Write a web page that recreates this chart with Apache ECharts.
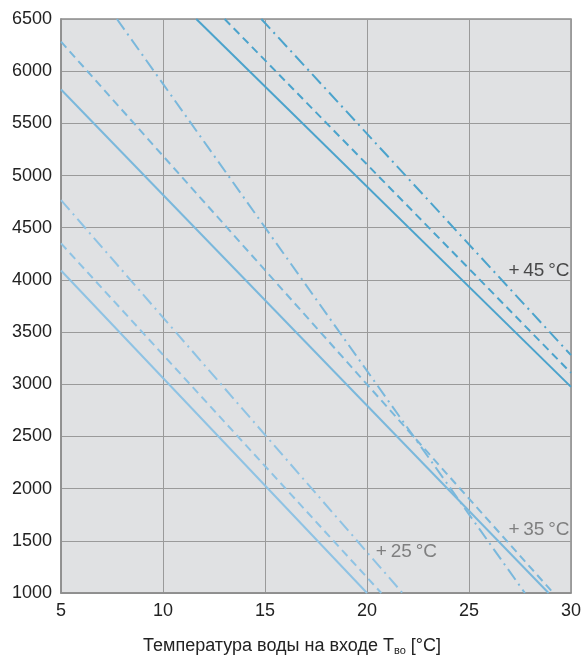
<!DOCTYPE html>
<html>
<head>
<meta charset="utf-8">
<script src="https://cdn.jsdelivr.net/npm/echarts@6/dist/echarts.min.js"></script>
<style>
html,body{margin:0;padding:0;background:#fff;}
#chart{width:584px;height:657px;}
</style>
</head>
<body>
<div id="chart"></div>
<script>
// ---- data ----
const xTicks = [5, 10, 15, 20, 25, 30];
const yTicks = [1000, 1500, 2000, 2500, 3000, 3500, 4000, 4500, 5000, 5500, 6000, 6500];

// +25 °C group
const t25Solid   = [[5, 4090], [20.0, 1000]];
const t25Dashed  = [[5, 4350], [20.7, 1000]];
const t25DashDot = [[5, 4765], [21.74, 1000]];
// +35 °C group
const t35Solid   = [[5, 5825], [28.9, 1000]];
const t35Dashed  = [[5, 6283], [29.13, 1000]];
const t35DashDot = [[7.74, 6500], [27.74, 1000]];
// +45 °C group
const t45Solid   = [[11.63, 6500], [30, 2975]];
const t45Dashed  = [[13.02, 6500], [30, 3109]];
const t45DashDot = [[14.82, 6500], [30, 3279]];

const labelTexts = ['+\u200945\u2009\u00b0C', '+\u200935\u2009\u00b0C', '+\u200925\u2009\u00b0C'];
const labelAnchors = [[28.43, 4084], [28.43, 1610], [21.93, 1393]];

// ---- chart ----
const chart = echarts.init(document.getElementById('chart'), null, {renderer: 'canvas'});
const FONT = '"Liberation Sans", Arial, sans-serif';
const c45 = '#4ba3cc', c35 = '#7ab8dc', c25 = '#8fc3e4';
const DASH = [8, 5];
const DASHDOT = [13, 5, 2, 5];

function mk(data, color, type) {
  return {
    type: 'line', data: data, symbol: 'none', silent: true,
    lineStyle: {color: color, width: 2, type: type},
    animation: false
  };
}

const series = [
  mk(t25Solid, c25, 'solid'), mk(t25Dashed, c25, DASH), mk(t25DashDot, c25, DASHDOT),
  mk(t35Solid, c35, 'solid'), mk(t35Dashed, c35, DASH), mk(t35DashDot, c35, DASHDOT),
  mk(t45Solid, c45, 'solid'), mk(t45Dashed, c45, DASH), mk(t45DashDot, c45, DASHDOT)
];

const labelColors = ['#222222', '#666666', '#666666'];
series.push({
  type: 'scatter', silent: true, animation: false,
  symbolSize: 0,
  data: labelAnchors.map((p, i) => ({
    value: p,
    label: {
      show: true, position: 'inside', formatter: labelTexts[i],
      color: labelColors[i], fontSize: 19, fontFamily: FONT, textBorderWidth: 0
    }
  }))
});

chart.setOption({
  backgroundColor: '#ffffff',
  animation: false,
  grid: {
    left: 61, right: 13, top: 19, bottom: 64,
    outerBoundsMode: 'none', containLabel: false,
    show: true, backgroundColor: '#e0e1e3', borderColor: '#8c8c8c', borderWidth: 1.5
  },
  xAxis: {
    type: 'value', min: 5, max: 30, interval: 5,
    name: 'Температура воды на входе T{sub|во} [°C]',
    nameLocation: 'middle', nameGap: 43,
    nameTextStyle: {
      fontSize: 18, color: '#222', fontFamily: FONT, padding: [0, 48, 0, 0],
      rich: {sub: {fontSize: 11, color: '#222', fontFamily: FONT, verticalAlign: 'bottom', padding: [9, 0, 0, 0]}}
    },
    axisLine: {show: true, lineStyle: {color: '#8c8c8c', width: 1.5}},
    axisTick: {show: false},
    axisLabel: {fontSize: 18, color: '#222', fontFamily: FONT, margin: 9,
      formatter: v => xTicks.includes(v) ? String(v) : ''},
    splitLine: {show: true, lineStyle: {color: '#9a9a9a', width: 1}}
  },
  yAxis: {
    type: 'value', min: 1000, max: 6500, interval: 500,
    axisLine: {show: true, lineStyle: {color: '#8c8c8c', width: 1.5}},
    axisTick: {show: false},
    axisLabel: {fontSize: 18, color: '#222', fontFamily: FONT, margin: 9,
      formatter: v => yTicks.includes(v) ? String(v) : ''},
    splitLine: {show: true, lineStyle: {color: '#9a9a9a', width: 1}}
  },
  series: series
});
</script>
</body>
</html>
